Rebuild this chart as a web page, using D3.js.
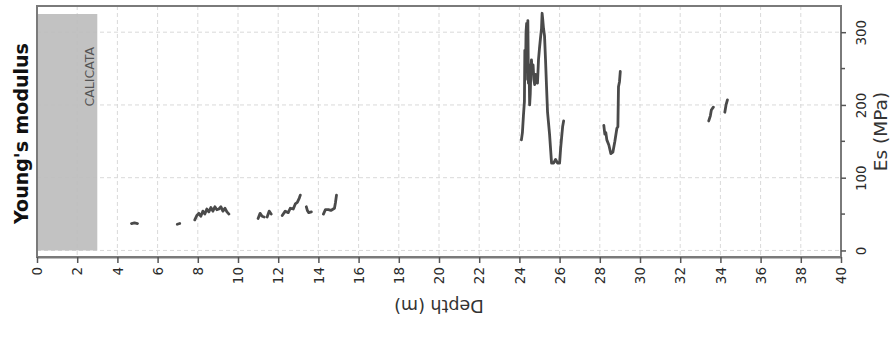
<!DOCTYPE html>
<html>
<head>
<meta charset="utf-8">
<script src="https://cdn.jsdelivr.net/npm/d3@7"></script>
<style>
  html, body { margin: 0; padding: 0; background: #fff; }
  svg { display: block; }
</style>
</head>
<body>
<svg id="chart" width="893" height="349"></svg>
<script>
// Depth (m) and Es (MPa) profile; null marks a gap between logged runs
const depthM = [
  4.70, 4.85, 5.00, null,
  6.98, 7.10, null,
  7.85, 7.95, 8.05, 8.15, 8.25, 8.35, 8.45, 8.55, 8.65, 8.75, 8.85, 8.95, 9.05, 9.15, 9.25, 9.35, 9.45, 9.55, null,
  11.00, 11.10, 11.20, 11.30, null,
  11.45, 11.55, 11.65, null,
  12.20, 12.35, 12.50, 12.60, 12.75, 12.85, 12.95, 13.05, 13.10, null,
  13.40, 13.45, 13.52, 13.65, null,
  14.25, 14.35, 14.50, 14.62, 14.80, 14.85, 14.90, null,
  24.10, 24.15, 24.20, 24.25, 24.27, 24.30, 24.33, 24.36, 24.39, 24.42, 24.45, 24.48, 24.51, 24.54, 24.57, 24.60,
  24.64, 24.68, 24.72, 24.76, 24.80, 24.85, 24.90, 24.95, 25.00, 25.05, 25.10, 25.13, 25.16, 25.20, 25.25,
  25.30, 25.35, 25.40, 25.45, 25.50, 25.55, 25.60, 25.70, 25.80, 25.90, 26.00, 26.05, 26.10, 26.15, 26.20, null,
  28.20, 28.25, 28.30, 28.35, 28.45, 28.55, 28.65, 28.75, 28.85, 28.90, 28.93, 28.98, 29.02, null,
  33.42, 33.50, 33.55, 33.65, null,
  34.22, 34.28, 34.35
];
const esMPa = [
  37, 38, 37, null,
  36, 37, null,
  42, 48, 51, 47, 54, 50, 57, 53, 59, 54, 60, 56, 57, 60, 54, 58, 53, 50, null,
  44, 51, 47, 46, null,
  46, 54, 50, null,
  48, 54, 52, 58, 57, 64, 66, 72, 76, null,
  60, 55, 52, 53, null,
  50, 56, 56, 55, 58, 66, 76, null,
  152, 162, 185, 205, 275, 235, 300, 312, 270, 316, 230, 255, 200, 215, 245, 262,
  245, 255, 235, 228, 242, 232, 230, 262, 278, 292, 305, 326, 318, 305, 295,
  262, 225, 190, 175, 160, 140, 120, 120, 125, 120, 120, 140, 155, 170, 178, null,
  172, 160, 162, 152, 145, 133, 135, 150, 168, 170, 225, 232, 246, null,
  178, 185, 193, 197, null,
  190, 200, 207
];

// Axis ticks and shaded test-pit band
const depthTicks = d3.range(0, 41, 2);
const esTicks = [0, 100, 200, 300];
const esMinorTicks = [50, 150, 250];
const calicataDepth = [0, 3];
const calicataEs = [0, 325];
const calicataLabel = "CALICATA";

const svg = d3.select("#chart");
const W = 893, H = 349;
const m = { left: 37, right: 52, top: 6, bottom: 92 };
const pw = W - m.left - m.right, ph = H - m.top - m.bottom;

const x = d3.scaleLinear().domain([0, 40]).range([m.left, m.left + pw]);
const y = d3.scaleLinear().domain([-9, 336]).range([m.top + ph, m.top]);

svg.append("rect").attr("width", W).attr("height", H).attr("fill", "#fff");

// grid
const grid = svg.append("g").attr("stroke", "#d9d9d9").attr("stroke-width", 1)
  .attr("stroke-dasharray", "4,3");
grid.selectAll("line.v").data(depthTicks.filter(d => d > 0 && d < 40)).join("line")
  .attr("x1", d => x(d)).attr("x2", d => x(d))
  .attr("y1", m.top).attr("y2", m.top + ph);
grid.selectAll("line.h").data(esTicks).join("line")
  .attr("x1", m.left).attr("x2", m.left + pw)
  .attr("y1", d => y(d)).attr("y2", d => y(d));

// test-pit band
svg.append("rect")
  .attr("x", x(calicataDepth[0])).attr("width", x(calicataDepth[1]) - x(calicataDepth[0]))
  .attr("y", y(calicataEs[1])).attr("height", y(calicataEs[0]) - y(calicataEs[1]))
  .attr("fill", "#bdbdbd").attr("opacity", 0.92);
svg.append("text")
  .attr("transform", `translate(${x(calicataDepth[1]) - 3},${y(calicataEs[1]) + 33}) rotate(-90)`)
  .attr("text-anchor", "end")
  .attr("font-family", "DejaVu Sans").attr("font-size", 12.5).attr("fill", "#555")
  .text(calicataLabel);

// profile line
const pts = depthM.map((d, i) => [d, esMPa[i]]);
const line = d3.line().defined(p => p[0] != null && p[1] != null)
  .x(p => x(p[0])).y(p => y(p[1]));
svg.append("path").datum(pts).attr("d", line)
  .attr("fill", "none").attr("stroke", "#4a4a4a").attr("stroke-width", 2.8)
  .attr("stroke-linejoin", "round").attr("stroke-linecap", "round");

// frame
svg.append("rect").attr("x", m.left).attr("y", m.top).attr("width", pw).attr("height", ph)
  .attr("fill", "none").attr("stroke", "#7a7a7a").attr("stroke-width", 2);

// bottom axis (depth)
const xAxis = svg.append("g").attr("transform", `translate(0,${m.top + ph})`)
  .call(d3.axisBottom(x).tickValues(depthTicks).tickSize(6).tickSizeOuter(0).tickFormat(d3.format("d")));
xAxis.select(".domain").attr("stroke", "#7a7a7a").attr("stroke-width", 2);
xAxis.selectAll(".tick line").attr("stroke", "#555").attr("stroke-width", 1.5);
xAxis.selectAll(".tick text")
  .attr("transform", "translate(0,10) rotate(-90)")
  .attr("text-anchor", "end").attr("x", 0).attr("y", 0).attr("dy", "0.35em")
  .attr("font-family", "DejaVu Sans").attr("font-size", 13.5).attr("fill", "#2a2a2a");

// right axis (Es)
const yAxis = svg.append("g").attr("transform", `translate(${m.left + pw},0)`)
  .call(d3.axisRight(y).tickValues(esTicks).tickSize(5).tickSizeOuter(0).tickFormat(d3.format("d")));
yAxis.select(".domain").remove();
yAxis.selectAll(".tick line").attr("stroke", "#555").attr("stroke-width", 1.5);
yAxis.selectAll(".tick text")
  .attr("transform", "translate(20,0) rotate(-90)")
  .attr("text-anchor", "middle").attr("x", 0).attr("y", 0).attr("dy", "0.35em")
  .attr("font-family", "DejaVu Sans").attr("font-size", 13.5).attr("fill", "#2a2a2a");
svg.append("g").selectAll("line").data(esMinorTicks).join("line")
  .attr("x1", m.left + pw).attr("x2", m.left + pw + 4)
  .attr("y1", d => y(d)).attr("y2", d => y(d))
  .attr("stroke", "#555").attr("stroke-width", 1.5);

// axis titles
svg.append("text")
  .attr("transform", `translate(${x(20)},${m.top + ph + 49}) rotate(180)`)
  .attr("text-anchor", "middle").attr("dy", "0.35em")
  .attr("font-family", "DejaVu Sans").attr("font-size", 17.5).attr("fill", "#333")
  .text("Depth (m)");
svg.append("text")
  .attr("transform", `translate(${W - 6},${m.top + ph / 2}) rotate(-90)`)
  .attr("text-anchor", "middle")
  .attr("font-family", "DejaVu Sans").attr("font-size", 18.5).attr("fill", "#333")
  .text("Es (MPa)");
svg.append("text")
  .attr("transform", `translate(28,${m.top + ph / 2 + 2}) rotate(-90)`)
  .attr("text-anchor", "middle")
  .attr("font-family", "DejaVu Sans").attr("font-weight", "bold").attr("font-size", 19)
  .attr("fill", "#111")
  .text("Young's modulus");
</script>
</body>
</html>
